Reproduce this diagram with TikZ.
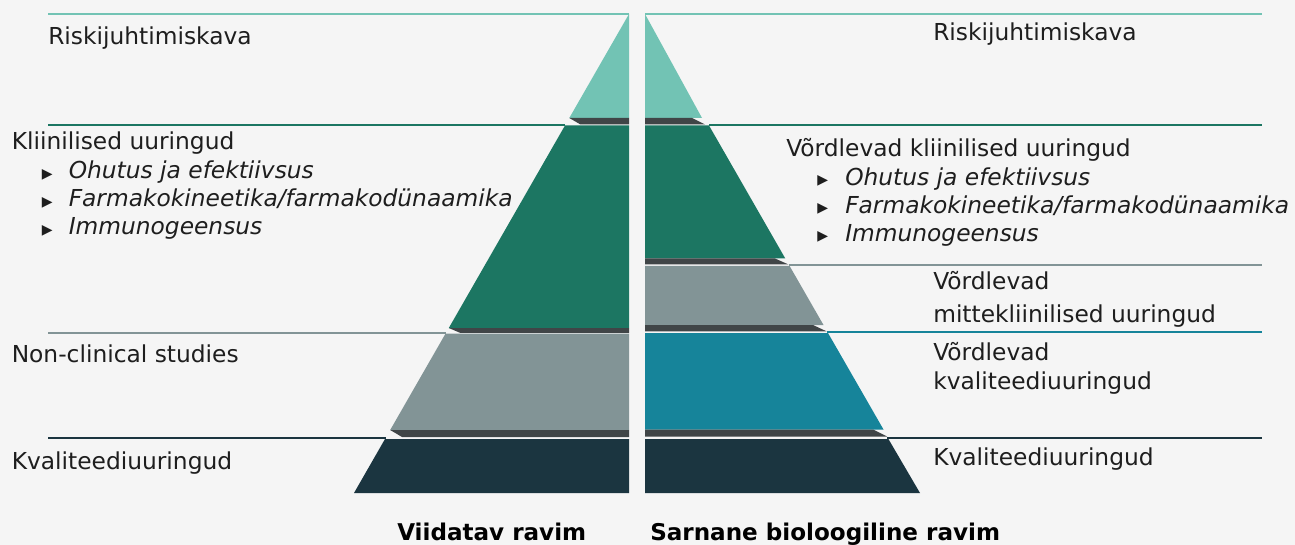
\documentclass[tikz,border=0pt]{standalone}
\usepackage{fontspec}
\setmainfont{DejaVu Sans}
\definecolor{bgc}{HTML}{F5F5F5}
\definecolor{cteal}{HTML}{72C3B4}
\definecolor{cgreen}{HTML}{1C7662}
\definecolor{cgray}{HTML}{829496}
\definecolor{cblue}{HTML}{16849A}
\definecolor{cnavy}{HTML}{1B3540}
\definecolor{cshadow}{HTML}{404547}
\definecolor{txtc}{HTML}{1E1E1E}
\begin{document}
\begin{tikzpicture}[x=0.75pt,y=-0.75pt,
  txt/.style={anchor=base west, inner sep=0pt, text=txtc, font=\fontsize{17.5}{20}\selectfont},
  itxt/.style={txt, font=\fontsize{17.5}{20}\selectfont\itshape},
  bul/.style={txt, font=\fontsize{10.5}{12}\selectfont},
  btxt/.style={anchor=base west, inner sep=0pt, text=black, font=\fontsize{17.3}{20}\selectfont\bfseries},
  rule/.style={line width=1.5pt},
  shadowc/.style={fill=cshadow}]
\useasboundingbox (0,0) rectangle (1295,545);
\fill[bgc] (0,0) rectangle (1295,545);

% ---------- left pyramid (Viidatav ravim) ----------
\fill[cteal]  (629,14) -- (629,118) -- (569.3,118) -- cycle;
\fill[shadowc] (569.3,118) -- (629,118) -- (629,124.5) -- (580.5,124.5) -- cycle;
\fill[cgreen] (565,125.5) -- (629,125.5) -- (629,328) -- (448.8,328) -- cycle;
\fill[shadowc] (448.8,328) -- (629,328) -- (629,332.8) -- (460,332.8) -- cycle;
\fill[cgray]  (445.6,333.5) -- (629,333.5) -- (629,430) -- (390.2,430) -- cycle;
\fill[shadowc] (390.2,430) -- (629,430) -- (629,437) -- (402,437) -- cycle;
\fill[cnavy]  (385,439) -- (629,439) -- (629,493) -- (354,493) -- cycle;

\draw[rule, cteal]  (48,14) -- (629,14);
\draw[rule, cgreen] (48,124.8) -- (565,124.8);
\draw[rule, cgray]  (48,332.8) -- (445.6,332.8);
\draw[rule, cnavy]  (48,438.2) -- (385.6,438.2);

% ---------- right pyramid (Sarnane bioloogiline ravim) ----------
\fill[cteal]  (645,14) -- (702,118) -- (645,118) -- cycle;
\fill[shadowc] (645,118) -- (692,118) -- (705,124.5) -- (645,124.5) -- cycle;
\fill[cgreen] (645,125.5) -- (709,125.5) -- (785.3,258.5) -- (645,258.5) -- cycle;
\fill[shadowc] (645,258.5) -- (775,258.5) -- (788.5,264.5) -- (645,264.5) -- cycle;
\fill[cgray]  (645,266) -- (789.6,266) -- (823.5,325) -- (645,325) -- cycle;
\fill[shadowc] (645,325) -- (813,325) -- (826.5,331.3) -- (645,331.3) -- cycle;
\fill[cblue]  (645,333) -- (828,333) -- (883.5,429.5) -- (645,429.5) -- cycle;
\fill[shadowc] (645,429.5) -- (873,429.5) -- (887,436.5) -- (645,436.5) -- cycle;
\fill[cnavy]  (645,439) -- (888.4,439) -- (920,493) -- (645,493) -- cycle;

\draw[rule, cteal]  (645,14) -- (1262,14);
\draw[rule, cgreen] (709,124.8) -- (1262,124.8);
\draw[rule, cgray]  (789,265.2) -- (1262,265.2);
\draw[rule, cblue]  (827,332.2) -- (1262,332.2);
\draw[rule, cnavy]  (887,437.8) -- (1262,437.8);

% ---------- left texts ----------
\node[txt] (lrisk) at (48,44.5) {Riskijuhtimiskava};
\node[txt] (lclin) at (11.5,150) {Kliinilised uuringud};
\node[bul] (lb1) at (41.5,178.5) {▶};
\node[itxt] (lc1) at (68.5,179) {Ohutus ja efektiivsus};
\node[bul] (lb2) at (41.5,206.5) {▶};
\node[itxt] (lc2) at (68.5,207) {Farmakokineetika/farmakodünaamika};
\node[bul] (lb3) at (41.5,234.5) {▶};
\node[itxt] (lc3) at (68.5,235) {Immunogeensus};
\node[txt] (lnon) at (11.5,362) {Non-clinical studies};
\node[txt] (lkval) at (11.5,469) {Kvaliteediuuringud};

% ---------- right texts ----------
\node[txt] (rrisk) at (933,41) {Riskijuhtimiskava};
\node[txt] (rclin) at (786,157) {Võrdlevad kliinilised uuringud};
\node[bul] (rb1) at (817,185) {▶};
\node[itxt] (rc1) at (845,185.5) {Ohutus ja efektiivsus};
\node[bul] (rb2) at (817,213) {▶};
\node[itxt] (rc2) at (845,213.5) {Farmakokineetika/farmakodünaamika};
\node[bul] (rb3) at (817,241) {▶};
\node[itxt] (rc3) at (845,241.5) {Immunogeensus};
\node[txt] (rnon1) at (933,290) {Võrdlevad};
\node[txt] (rnon2) at (933,322) {mittekliinilised uuringud};
\node[txt] (rkv1) at (933,360) {Võrdlevad};
\node[txt] (rkv2) at (933,389) {kvaliteediuuringud};
\node[txt] (rkval) at (933,465) {Kvaliteediuuringud};

% ---------- captions ----------
\node[btxt] (capl) at (397,540) {Viidatav ravim};
\node[btxt] (capr) at (650,540) {Sarnane bioloogiline ravim};
\end{tikzpicture}
\end{document}
